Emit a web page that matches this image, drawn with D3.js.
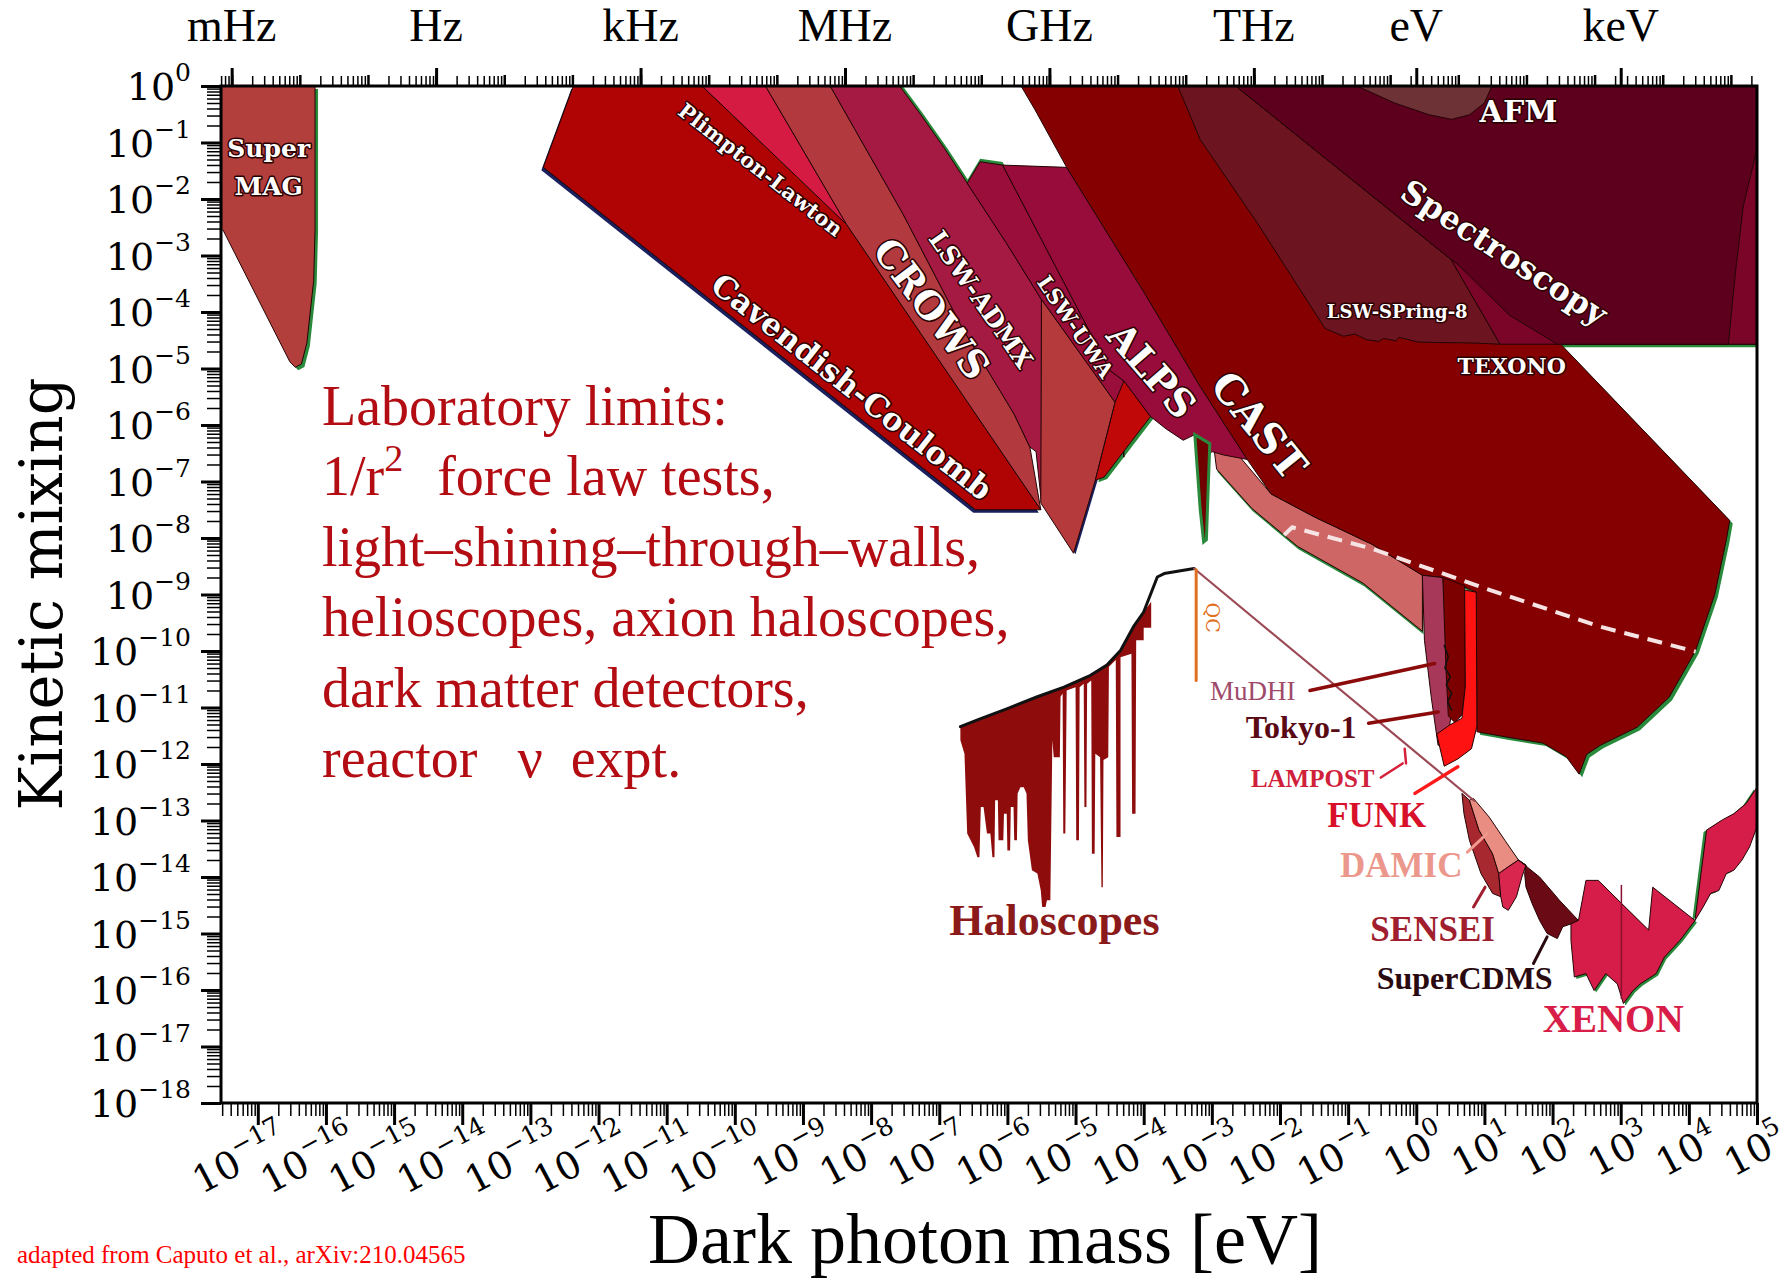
<!DOCTYPE html>
<html>
<head>
<meta charset="utf-8">
<script src="https://cdn.jsdelivr.net/npm/d3@7/dist/d3.min.js"></script>
<style>
  body { margin: 0; background: #fff; }
  svg { display: block; }
</style>
</head>
<body>
<svg id="chart" width="1792" height="1279"></svg>
<script>
// every shape below is a list of [log10(mass / eV), log10(kinetic mixing)]
var xMinLog = -17.54;
var xDecades = d3.range(-17, 6);
var yDecades = d3.range(-18, 1);
var planck = 4.1357e-15; // eV per Hz
var topUnits = ["mHz", "Hz", "kHz", "MHz", "GHz", "THz", "eV", "keV"];
var topUnitEnergy = [1e-3 * planck, planck, 1e3 * planck, 1e6 * planck, 1e9 * planck, 1e12 * planck, 1, 1e3];

var superMAG = [[-17.54,0],[-16.16,0],[-16.16,-2.53],[-16.18,-3.44],[-16.28,-4.55],[-16.36,-4.92],[-16.45,-4.98],[-16.53,-4.88],[-17.51,-2.55],[-17.54,-2.55]];
var cavendish = [[-12.37,0],[-10.48,0],[-8.36,-2.45],[-5.51,-7.50],[-6.47,-7.50],[-12.81,-1.44]];
var plimpton = [[-10.48,0],[-9.55,0],[-8.36,-2.45]];
var crows = [[-9.55,0],[-8.60,0],[-7.53,-2.27],[-6.64,-4.33],[-5.90,-5.81],[-5.67,-6.39],[-5.51,-7.50],[-8.36,-2.45]];
var lswADMX = [[-8.60,0],[-7.58,0],[-7.27,-0.51],[-6.92,-1.11],[-6.59,-1.72],[-6.02,-2.77],[-5.50,-3.78],[-5.50,-7.38],[-5.58,-6.47],[-5.67,-6.39],[-5.90,-5.81],[-6.64,-4.33],[-7.53,-2.27]];
var lswUWA = [[-6.59,-1.72],[-6.40,-1.34],[-6.07,-1.40],[-5.10,-3.64],[-4.49,-5.04],[-4.29,-5.22],[-4.29,-6.57],[-4.42,-5.60],[-5.50,-3.78],[-6.02,-2.77]];
var uwaLow = [[-5.50,-3.78],[-4.42,-5.60],[-4.71,-6.98],[-5.03,-8.27],[-5.51,-7.38]];
var redWedge = [[-4.42,-5.60],[-4.29,-5.22],[-3.90,-5.85],[-4.58,-6.92],[-4.71,-6.98]];
var alps = [[-6.07,-1.40],[-5.13,-1.44],[-4.00,-3.64],[-3.17,-5.32],[-2.48,-6.61],[-2.83,-6.53],[-3.00,-6.47],[-3.10,-6.62],[-3.14,-6.36],[-3.25,-6.17],[-3.42,-6.27],[-3.67,-6.07],[-3.90,-5.85],[-4.29,-5.22],[-4.49,-5.04],[-5.10,-3.64]];
var alpsSpike = [[-3.25,-6.17],[-3.03,-6.33],[-3.08,-8.03],[-3.12,-8.07],[-3.17,-7.50]];
var salmonStrip = [[-2.97,-6.40],[-2.60,-6.55],[-2.13,-7.22],[-1.49,-7.63],[-0.65,-8.11],[0.09,-8.66],[0.09,-9.65],[-0.78,-8.80],[-1.74,-8.15],[-2.41,-7.48],[-2.93,-6.78]];
var cast = [[-5.80,0],[5,0],[5,-4.57],[2.12,-4.57],[4.60,-7.69],[4.55,-8.03],[4.38,-9.00],[4.10,-9.99],[3.71,-10.82],[3.24,-11.35],[2.70,-11.67],[2.50,-11.83],[2.39,-12.18],[2.20,-11.87],[1.86,-11.63],[1.36,-11.53],[0.89,-11.43],[0.88,-8.96],[0.39,-8.70],[0.09,-8.66],[-0.65,-8.11],[-1.49,-7.63],[-2.13,-7.22],[-2.48,-6.61],[-3.17,-5.32],[-4.00,-3.64],[-5.13,-1.44],[-5.60,-0.41]];
var lswSPring8 = [[-3.50,0],[-2.65,0],[0.51,-3.07],[1.23,-4.57],[0.86,-4.55],[0.30,-4.54],[0.02,-4.53],[-0.25,-4.45],[-0.30,-4.51],[-0.48,-4.47],[-0.55,-4.52],[-0.73,-4.49],[-0.90,-4.39],[-1.07,-4.43],[-1.34,-4.29],[-2.33,-2.43],[-3.17,-0.95]];
var texonoBox = [[-2.65,0],[5,0],[5,-4.57],[1.23,-4.57],[0.51,-3.07]];
var spectroscopy = [[-2.65,0],[5,0],[5,-1.11],[4.80,-2.12],[4.68,-3.34],[4.58,-4.57],[2.07,-4.57],[1.36,-4.05],[0.61,-3.16],[0.51,-3.07]];
var afm = [[-0.87,0],[1.11,0],[1.00,-0.30],[0.78,-0.51],[0.52,-0.59],[0.19,-0.51],[-0.32,-0.30]];
var mudhi = [[0.09,-8.66],[0.39,-8.70],[0.46,-9.81],[0.52,-11.02],[0.46,-11.63],[0.32,-11.67],[0.22,-10.82],[0.12,-9.81]];
var tokyo = [[0.39,-8.70],[0.71,-8.84],[0.72,-10.62],[0.67,-11.13],[0.57,-11.27],[0.47,-11.15],[0.44,-10.42],[0.41,-9.41]];
var mudhiEdge = [[0.41,-9.90],[0.47,-10.10],[0.42,-10.30],[0.50,-10.45],[0.44,-10.60],[0.52,-10.75],[0.46,-10.90],[0.52,-11.05]];
var funk = [[0.71,-8.92],[0.88,-8.96],[0.89,-11.33],[0.81,-11.73],[0.61,-11.91],[0.41,-12.04],[0.30,-11.47],[0.49,-11.31],[0.67,-11.19],[0.72,-10.62]];
var dashedLimit = [[-1.94,-7.95],[-1.82,-7.81],[-0.65,-8.19],[1.03,-8.90],[2.70,-9.57],[4.10,-10.01]];

var haloTop = [[-6.69,-11.34],[-6.40,-11.20],[-6.00,-11.02],[-5.56,-10.81],[-5.17,-10.64],[-4.78,-10.43],[-4.54,-10.25],[-4.34,-9.99],[-4.15,-9.57],[-4.00,-9.31],[-3.80,-8.69],[-3.70,-8.63],[-3.26,-8.54]];
var haloscopes = [[-6.69,-11.34],[-6.40,-11.20],[-6.00,-11.02],[-5.56,-10.81],[-5.17,-10.64],[-4.78,-10.43],[-4.54,-10.25],[-4.34,-9.99],[-4.15,-9.57],[-4.00,-9.31],[-3.89,-9.13],
  [-3.89,-9.59],[-4.00,-9.59],[-4.00,-9.81],[-4.11,-9.81],[-4.12,-12.88],[-4.17,-12.88],[-4.18,-10.05],[-4.34,-10.11],[-4.34,-13.29],[-4.40,-13.29],[-4.41,-10.16],
  [-4.51,-10.28],[-4.52,-11.88],[-4.59,-11.93],[-4.60,-14.18],[-4.62,-14.18],[-4.64,-11.88],[-4.71,-11.82],[-4.72,-13.59],[-4.76,-13.59],[-4.77,-10.52],[-4.83,-10.58],
  [-4.84,-12.76],[-4.87,-12.76],[-4.88,-10.58],[-4.94,-10.64],[-4.95,-13.35],[-4.99,-13.35],[-5.00,-10.64],[-5.13,-10.70],[-5.15,-13.23],[-5.18,-13.23],[-5.19,-10.75],
  [-5.22,-10.81],[-5.23,-11.88],[-5.32,-11.88],[-5.34,-11.58],[-5.37,-14.41],[-5.42,-14.41],[-5.44,-14.53],[-5.49,-14.53],[-5.51,-14.24],[-5.56,-13.94],[-5.64,-13.88],
  [-5.70,-13.35],[-5.72,-12.52],[-5.76,-12.41],[-5.81,-12.41],[-5.85,-12.52],[-5.86,-13.35],[-5.90,-13.35],[-5.91,-12.76],[-5.95,-12.76],[-5.96,-13.53],[-6.00,-13.53],
  [-6.01,-12.88],[-6.05,-12.88],[-6.06,-13.35],[-6.13,-13.35],[-6.14,-12.64],[-6.18,-12.64],[-6.19,-13.65],[-6.22,-13.65],[-6.25,-13.23],[-6.30,-13.23],[-6.35,-12.76],
  [-6.39,-12.76],[-6.41,-13.65],[-6.44,-13.65],[-6.49,-13.47],[-6.54,-13.35],[-6.59,-13.23],[-6.63,-11.82],[-6.69,-11.58]];
var dmLine = [[-3.26,-8.54],[0.85,-12.65]];
var qcLine = [[-3.23,-8.56],[-3.23,-10.52]];

var sensei = [[0.67,-12.52],[0.78,-12.64],[0.92,-13.17],[1.12,-13.59],[1.21,-13.94],[1.24,-14.35],[1.12,-14.29],[0.95,-13.94],[0.78,-13.35],[0.70,-12.88]];
var damic = [[0.78,-12.64],[0.84,-12.61],[1.07,-12.94],[1.30,-13.35],[1.50,-13.70],[1.35,-13.82],[1.21,-13.94],[1.12,-13.59],[0.92,-13.17]];
var senseiLow = [[1.21,-13.94],[1.35,-13.82],[1.50,-13.70],[1.61,-13.79],[1.55,-14.00],[1.47,-14.35],[1.35,-14.59],[1.27,-14.53],[1.24,-14.35]];
var superCDMS = [[1.50,-13.70],[1.81,-14.00],[2.10,-14.41],[2.38,-14.77],[2.27,-14.83],[2.15,-14.88],[2.07,-15.09],[1.92,-15.00],[1.81,-14.77],[1.70,-14.47],[1.61,-14.18],[1.59,-13.94],[1.61,-13.79]];
var xenon = [[2.27,-14.83],[2.38,-14.77],[2.49,-14.06],[2.67,-14.06],[3.41,-14.94],[3.47,-14.18],[4.09,-14.77],[3.87,-15.12],[3.64,-15.42],[3.52,-15.71],[3.29,-15.89],[3.18,-16.01],[3.04,-16.24],[2.95,-15.89],[2.78,-15.71],[2.61,-16.01],[2.49,-15.71],[2.32,-15.77],[2.27,-15.12]];
var xenonHigh = [[4.09,-14.77],[4.26,-13.17],[4.49,-12.99],[4.66,-12.88],[4.84,-12.70],[5,-12.41],[5,-13.11],[4.89,-13.47],[4.78,-13.70],[4.66,-13.88],[4.55,-13.94],[4.44,-14.24],[4.32,-14.29],[4.21,-14.53]];
var xenonDivider = [[3.01,-14.15],[3.01,-16.15]];

var pointers = [
  [[[-1.56,-10.70],[0.27,-10.22]], "#8b0a0a", 3.5],
  [[[-0.70,-11.28],[0.32,-11.08]], "#8b0a0a", 3.5],
  [[[-0.52,-12.24],[-0.20,-11.99]], "#d8203a", 2.5],
  [[[-0.17,-11.73],[-0.15,-11.99]], "#d8203a", 2.5],
  [[[-0.02,-12.52],[0.61,-12.05]], "#ff1a1a", 3.5],
  [[[0.75,-13.56],[1.04,-13.23]], "#ef9a8c", 3],
  [[[0.84,-14.53],[1.01,-14.18]], "#a01e2e", 3],
  [[[1.72,-15.53],[1.92,-15.06]], "#2a0a10", 3]
];

// white labels inside the lab regions: text, log m, log eps, angle, size
var whiteLabels = [
  ["Super", -16.84, -1.11, 0, 25], ["MAG", -16.84, -1.78, 0, 25],
  ["Plimpton-Lawton", -9.62, -1.48, 38, 21], ["CROWS", -7.11, -3.94, 53, 38],
  ["LSW-ADMX", -6.39, -3.78, 55, 25], ["Cavendish-Coulomb", -8.28, -5.32, 38, 31],
  ["LSW-UWA", -5.00, -4.26, 56, 21], ["ALPS", -3.88, -5.03, 49, 38],
  ["CAST", -2.31, -6.01, 51, 41], ["AFM", 1.50, -0.45, 0, 30],
  ["Spectroscopy", 1.29, -2.95, 33, 32], ["LSW-SPring-8", -0.28, -3.99, 0, 18],
  ["TEXONO", 1.40, -4.96, 0, 22]
];
// coloured labels around the dark matter searches
var searchLabels = [
  ["Haloscopes", -5.31, -14.77, "#8b1a1a", 44, "bold"],
  ["MuDHI", -2.40, -10.70, "#a04a6a", 27, "normal"],
  ["Tokyo-1", -1.69, -11.35, "#5a0a14", 32, "bold"],
  ["LAMPOST", -1.52, -12.26, "#d0203a", 25, "bold"],
  ["FUNK", -0.58, -12.92, "#d8102a", 35, "bold"],
  ["DAMIC", -0.22, -13.79, "#ec978c", 35, "bold"],
  ["SENSEI", 0.24, -14.93, "#a01e2e", 35, "bold"],
  ["SuperCDMS", 0.71, -15.78, "#2a0a10", 32, "bold"],
  ["XENON", 2.89, -16.50, "#d81e48", 39, "bold"]
];

var textLines = ["Laboratory limits:", "1/r", "light\u2013shining\u2013through\u2013walls,", "helioscopes, axion haloscopes,", "dark matter detectors,", "reactor"];

var svg = d3.select("#chart");
var plotL = 221, plotR = 1757, plotT = 86, plotB = 1103;
var green = "#2a8a3c";

var x = d3.scaleLog().domain([Math.pow(10, xMinLog), 1e5]).range([plotL, plotR]);
var y = d3.scaleLog().domain([1e-18, 1]).range([plotB, plotT]);
var shape = d3.line()
    .x(function(d) { return x(Math.pow(10, d[0])); })
    .y(function(d) { return y(Math.pow(10, d[1])); });

svg.append("clipPath").attr("id", "plotClip").append("rect")
    .attr("x", plotL).attr("y", plotT).attr("width", plotR - plotL).attr("height", plotB - plotT);
var plot = svg.append("g").attr("clip-path", "url(#plotClip)");
var shadowLayer = plot.append("g");
var fillLayer = plot.append("g");
var lineLayer = plot.append("g");

function region(pts, fill, shadow, shadowColor) {
    if (shadow) {
        shadowLayer.append("path")
            .attr("d", shape(pts) + "Z")
            .attr("fill", shadowColor || green)
            .attr("transform", "translate(" + shadow[0] + "," + shadow[1] + ")");
    }
    fillLayer.append("path")
        .attr("d", shape(pts) + "Z")
        .attr("fill", fill)
        .attr("stroke", "#240404")
        .attr("stroke-width", 1)
        .attr("stroke-linejoin", "round");
}

region(superMAG, "#b33f3c", [3, 3]);
region(cavendish, "#b00303", [-2, 3], "#1a1f5e");
region(plimpton, "#d51b42");
region(crows, "#b23a3e");
region(lswADMX, "#a51a42", [3, 0]);
region(lswUWA, "#9a0e3c", [0, -3]);
region(uwaLow, "#b43a3b", [2, 1], "#1a1f5e");
region(redWedge, "#c00808", [3, 2]);
region(salmonStrip, "#cf6666", [1, 3]);
region(alps, "#970c3a");
fillLayer.append("path").attr("d", shape(alpsSpike) + "Z")
    .attr("fill", "#700000").attr("stroke", green).attr("stroke-width", 3);
region(cast, "#850000", [3, 3]);
region(lswSPring8, "#6c1420");
region(texonoBox, "#7a0529");
region(spectroscopy, "#5c001e");
region(afm, "#6d3236");
region(mudhi, "#a8385a");
region(tokyo, "#7d0000");
region(funk, "#ff1212");
fillLayer.append("path").attr("d", shape(haloscopes) + "Z").attr("fill", "#8e0c0c");
region(sensei, "#a82830");
region(damic, "#e98d82");
region(senseiLow, "#d8264e");
region(superCDMS, "#6a0a14");
region(xenon, "#d61c48", [2, 2]);
region(xenonHigh, "#d61c48", [-3, 2]);

function polyline(pts, color, width, dash) {
    var p = lineLayer.append("path").attr("d", shape(pts))
        .attr("fill", "none").attr("stroke", color).attr("stroke-width", width)
        .attr("stroke-linecap", "round").attr("stroke-linejoin", "round");
    if (dash) p.attr("stroke-dasharray", dash);
    return p;
}
polyline(mudhiEdge, "#111", 1.5);
polyline(xenonDivider, "#8a1030", 1.5);
polyline(dashedLimit, "#f6e4e4", 4, "15,9").attr("stroke-linecap", "butt");
polyline(haloTop, "#111", 3);
polyline(dmLine, "#9b4a55", 2.2);
polyline(qcLine, "#e07020", 3);
pointers.forEach(function(p) { polyline(p[0], p[1], p[2]); });

function px(d) { return x(Math.pow(10, d)); }
function py(d) { return y(Math.pow(10, d)); }

whiteLabels.forEach(function(l) {
    svg.append("text")
        .attr("transform", "translate(" + px(l[1]) + "," + py(l[2]) + ") rotate(" + l[3] + ")")
        .attr("text-anchor", "middle").attr("dominant-baseline", "central")
        .attr("font-family", "DejaVu Serif").attr("font-weight", "bold").attr("font-size", l[4])
        .attr("fill", "#fff").attr("stroke", "#2a0000").attr("stroke-width", 3)
        .attr("paint-order", "stroke").attr("stroke-linejoin", "round")
        .text(l[0]);
});
searchLabels.forEach(function(l) {
    svg.append("text")
        .attr("x", px(l[1])).attr("y", py(l[2]))
        .attr("text-anchor", "middle").attr("dominant-baseline", "central")
        .attr("font-family", "Liberation Serif").attr("font-weight", l[5]).attr("font-size", l[4])
        .attr("fill", l[3]).text(l[0]);
});
svg.append("text")
    .attr("transform", "translate(" + px(-2.99) + "," + py(-9.41) + ") rotate(90)")
    .attr("text-anchor", "middle").attr("dominant-baseline", "central")
    .attr("font-family", "DejaVu Serif").attr("font-size", 19).attr("fill", "#e07020").text("QC");

// ---- axes ----
function minors(k0, k1, lo, hi, scale) {
    var v = [];
    for (var k = k0; k <= k1; k++) for (var j = 2; j < 10; j++) {
        var t = j * Math.pow(10, k) * scale;
        if (t >= lo && t <= hi) v.push(t);
    }
    return v;
}
var xLo = x.domain()[0], xHi = x.domain()[1];

function styleAxis(g, width) {
    g.selectAll(".tick line").attr("stroke", "#000").attr("stroke-width", width);
    g.select(".domain").remove();
}

var gx = svg.append("g").attr("transform", "translate(0," + plotB + ")");
gx.append("g").call(d3.axisBottom(x).tickValues(minors(-18, 4, xLo, xHi, 1)).tickSize(13).tickSizeOuter(0).tickFormat("")).call(styleAxis, 1.5);
gx.append("g").call(d3.axisBottom(x).tickValues(xDecades.map(function(k) { return Math.pow(10, k); })).tickSize(22).tickSizeOuter(0).tickFormat("")).call(styleAxis, 3);

var gy = svg.append("g").attr("transform", "translate(" + plotL + ",0)");
gy.append("g").call(d3.axisLeft(y).tickValues(minors(-18, -1, 1e-18, 1, 1)).tickSize(14).tickSizeOuter(0).tickFormat("")).call(styleAxis, 1.5);
gy.append("g").call(d3.axisLeft(y).tickValues(yDecades.map(function(k) { return Math.pow(10, k); })).tickSize(20).tickSizeOuter(0).tickFormat("")).call(styleAxis, 3);

var gt = svg.append("g").attr("transform", "translate(0," + plotT + ")");
gt.append("g").call(d3.axisTop(x).tickValues(minors(-4, 19, xLo, xHi, planck)).tickSize(10).tickSizeOuter(0).tickFormat("")).call(styleAxis, 1.5);
gt.append("g").call(d3.axisTop(x).tickValues(d3.range(-4, 20).map(function(k) { return Math.pow(10, k) * planck; }).filter(function(v) { return v >= xLo && v <= xHi; })).tickSize(11).tickSizeOuter(0).tickFormat("")).call(styleAxis, 2.5);
gt.append("g").call(d3.axisTop(x).tickValues(topUnitEnergy).tickSize(18).tickSizeOuter(0).tickFormat("")).call(styleAxis, 3);

svg.append("rect").attr("x", plotL).attr("y", plotT).attr("width", plotR - plotL).attr("height", plotB - plotT)
    .attr("fill", "none").attr("stroke", "#000").attr("stroke-width", 3);

function expText(sel, k, supSize, raise) {
    sel.append("tspan").text("10");
    sel.append("tspan").attr("font-size", supSize).attr("dy", -raise)
        .text(k < 0 ? "\u2212" + (-k) : String(k));
}
xDecades.forEach(function(k) {
    var tx = x(Math.pow(10, k)) + 33, ty = plotB + 44;
    svg.append("text")
        .attr("transform", "translate(" + tx + "," + ty + ") rotate(-28)")
        .attr("text-anchor", "end").attr("font-family", "DejaVu Serif").attr("font-size", 38)
        .call(expText, k, 25, 18);
});
yDecades.forEach(function(k) {
    svg.append("text")
        .attr("x", plotL - 30).attr("y", y(Math.pow(10, k)) + 14)
        .attr("text-anchor", "end").attr("font-family", "DejaVu Serif").attr("font-size", 38)
        .call(expText, k, 25, 19);
});
topUnits.forEach(function(u, i) {
    svg.append("text").attr("x", x(topUnitEnergy[i])).attr("y", 41)
        .attr("text-anchor", "middle").attr("font-family", "Liberation Serif").attr("font-size", 46)
        .text(u);
});

svg.append("text").attr("x", 985).attr("y", 1263).attr("text-anchor", "middle")
    .attr("font-family", "Liberation Serif").attr("font-size", 72).text("Dark photon mass [eV]");
svg.append("text").attr("transform", "translate(62,594) rotate(-90)").attr("text-anchor", "middle")
    .attr("font-family", "DejaVu Serif").attr("font-size", 59).text("Kinetic mixing");

// ---- red annotation block ----
var block = svg.append("g").attr("font-family", "Liberation Serif").attr("font-size", 56).attr("fill", "#b30c12");
textLines.forEach(function(t, i) {
    var tx = block.append("text").attr("x", 322).attr("y", 425 + i * 70.4);
    tx.append("tspan").text(t);
    if (i === 1) {
        tx.append("tspan").attr("font-size", 38).attr("dy", -24).text("2");
        tx.append("tspan").attr("dy", 24).attr("dx", 34).text("force law tests,");
    }
    if (i === 5) {
        tx.append("tspan").attr("dx", 40).text("\u03bd");
        tx.append("tspan").attr("dx", 28).text("expt.");
    }
});
svg.append("text").attr("x", 17).attr("y", 1263).attr("font-family", "Liberation Serif")
    .attr("font-size", 25).attr("fill", "#ff0000").text("adapted from Caputo et al., arXiv:210.04565");
</script>
</body>
</html>
